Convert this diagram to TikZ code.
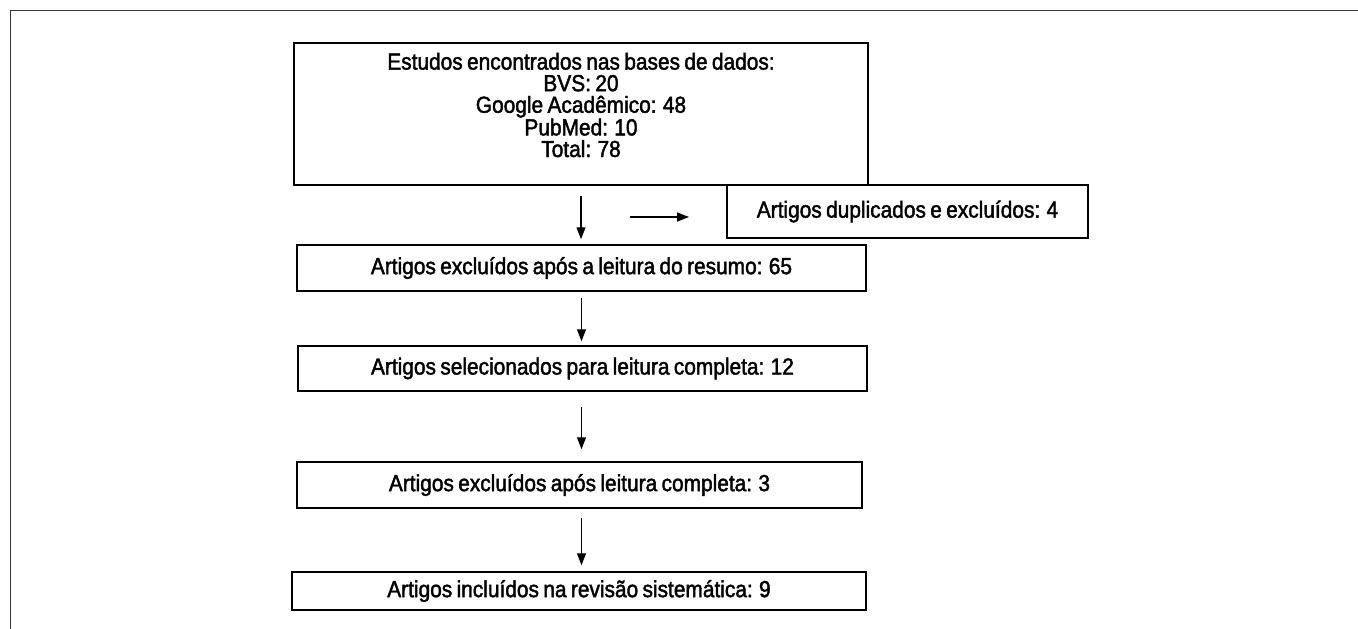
\documentclass[tikz,border=0pt]{standalone}
\usepackage{fontspec}
\setmainfont{Liberation Sans}[FakeStretch=0.9, FakeBold=1.8, WordSpace=0.75]
\usepackage{xcolor}
\usetikzlibrary{arrows.meta}
\definecolor{framegray}{HTML}{3A3A3A}

\begin{document}
\begin{tikzpicture}[x=1pt, y=-1pt,
    box/.style={draw, line width=1.5pt, inner sep=0pt, align=center,
      font=\fontsize{23.2}{22}\selectfont},
    arr/.style={-{Triangle[length=12pt, width=9pt]}, line width=1.4pt}]
  \useasboundingbox (0,0) rectangle (1358,629);
  % outer frame (only top and left edges show)
  \draw[framegray, line width=1.8pt] (10.5,629) -- (10.5,10.5) -- (1358,10.5);

  % boxes
  \node[box, minimum width=574pt, minimum height=142pt] (src) at (581,114) {};
  \node[font=\fontsize{23.2}{21.6}\selectfont, align=center] (srctext) at (581,105)
    {Estudos encontrados nas bases de dados:\\ BVS: 20\\ Google Acadêmico: 48\\ PubMed: 10\\ Total: 78};
  \node[box, minimum width=361pt, minimum height=53pt] (dup) at (907.5,211.5) {Artigos duplicados e excluídos: 4};
  \node[box, minimum width=569pt, minimum height=46pt] (resumo) at (581.5,268) {Artigos excluídos após a leitura do resumo: 65};
  \node[box, minimum width=569pt, minimum height=45pt] (selec) at (582.5,368.5) {Artigos selecionados para leitura completa: 12};
  \node[box, minimum width=565pt, minimum height=46pt] (compl) at (579.5,485) {Artigos excluídos após leitura completa: 3};
  \node[box, minimum width=574pt, minimum height=38pt] (incl) at (579,591) {Artigos incluídos na revisão sistemática: 9};

  % arrows
  \coordinate (hstart) at (630,217);
  \coordinate (hend) at (689,217);
  \draw[arr, shorten <=10pt, shorten >=5pt] (src.south) -- (src.south |- resumo.north);
  \draw[arr] (hstart) -- (hend);
  \draw[arr, shorten <=6pt, shorten >=4pt] (resumo.south) -- (resumo.south |- selec.north);
  \draw[arr, shorten <=15pt, shorten >=12pt] (resumo.south |- selec.south) -- (resumo.south |- compl.north);
  \draw[arr, shorten <=9pt, shorten >=6pt] (resumo.south |- compl.south) -- (resumo.south |- incl.north);
\end{tikzpicture}
\end{document}
